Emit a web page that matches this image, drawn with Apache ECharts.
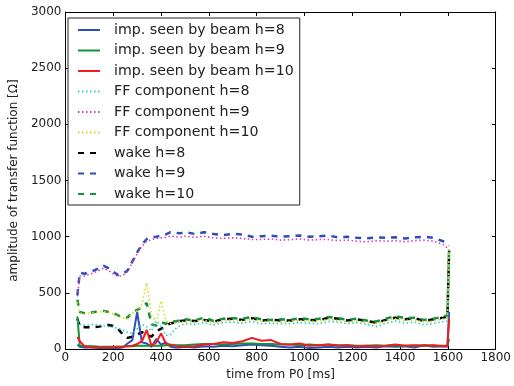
<!DOCTYPE html>
<html><head><meta charset="utf-8">
<script src="https://cdn.jsdelivr.net/npm/echarts@6/dist/echarts.min.js"></script>
<style>html,body{margin:0;padding:0;background:#fff}#c{width:514px;height:386px}</style>
</head><body><div id="c"></div>
<script>
const timeMs = [50,60,80,100,120,140,160,180,200,220,240,260,280,300,320,340,360,380,400,420,440,460,480,500,540,580,620,660,700,740,780,820,860,900,940,980,1020,1060,1100,1140,1180,1220,1260,1300,1340,1380,1420,1460,1500,1540,1580,1598,1605];

const impH8 = [40,20,15,15,15,10,10,10,10,10,15,50,80,330,60,50,20,90,40,60,20,15,15,20,15,25,20,30,25,35,40,35,30,20,15,20,10,15,20,15,20,15,20,15,25,20,25,15,35,20,25,20,330];
const impH9 = [290,30,25,25,25,20,20,20,20,20,20,25,25,30,30,30,30,30,30,35,35,35,35,35,40,45,45,40,45,50,50,45,45,40,40,35,40,35,40,35,35,30,30,35,30,35,30,30,35,30,30,30,90];
const impH10 = [110,70,25,20,15,15,15,15,15,20,20,25,30,45,70,170,30,60,140,50,40,30,20,20,25,40,45,60,55,70,100,75,80,45,40,50,30,35,40,30,35,25,30,25,30,40,30,35,30,35,25,30,270];

const ffH8 = [250,220,215,215,220,215,205,200,195,185,170,150,140,180,220,200,160,250,200,120,130,180,210,225,220,235,215,235,240,230,245,225,230,225,225,235,230,225,245,240,225,235,220,200,230,250,230,240,215,230,245,250,860];
const ffH9 = [470,650,650,665,680,700,720,700,670,645,655,690,770,850,915,960,975,985,990,995,1005,1000,995,1005,995,1005,990,985,990,985,975,975,980,970,975,980,970,975,975,965,970,960,955,965,960,965,955,965,970,960,930,900,880];
const ffH10 = [420,320,315,320,325,330,335,325,310,290,275,270,320,340,400,590,300,240,430,250,230,230,240,245,240,260,235,255,260,250,265,245,245,240,245,255,245,250,265,255,240,250,235,225,250,270,255,260,240,250,270,280,900];

const wakeH8 = [270,200,195,195,195,200,210,215,205,180,130,100,110,130,150,130,110,160,180,210,230,235,250,255,250,260,245,265,270,260,275,255,260,255,255,265,260,255,280,270,255,265,250,235,260,280,265,275,250,265,280,290,880];
const wakeH9 = [480,680,670,690,700,720,740,720,690,660,670,700,780,860,930,980,995,1000,1010,1020,1040,1035,1030,1040,1025,1040,1025,1015,1025,1020,1000,1005,1010,1000,1005,1010,1000,1005,1010,995,1000,990,985,995,990,995,985,995,1000,990,960,935,920];
const wakeH10 = [440,330,320,325,330,335,340,330,320,300,285,280,330,350,370,410,220,210,240,225,250,245,260,265,255,280,250,270,275,270,285,265,260,265,260,275,265,270,285,275,260,270,255,245,270,295,275,280,260,270,290,300,910];

const xTicks = [0,200,400,600,800,1000,1200,1400,1600,1800];
const yTicks = [0,500,1000,1500,2000,2500,3000];

const names = ['imp. seen by beam h=8','imp. seen by beam h=9','imp. seen by beam h=10','FF component h=8','FF component h=9','FF component h=10','wake h=8','wake h=9','wake h=10'];
const values = [impH8, impH9, impH10, ffH8, ffH9, ffH10, wakeH8, wakeH9, wakeH10];
const colors = ['#2f4fb8','#14913a','#f01c1c','#2ccfcf','#d040c8','#d8d820','#000000','#2f4fb8','#14913a'];
const kinds = ['solid','solid','solid','dotted','dotted','dotted','dashed','dashed','dashed'];

const FONT = 'DejaVu Sans';
function pairs(v){ return timeMs.map((t,i)=>[t,v[i]]); }

const series = names.map((n,i)=>{
  const k = kinds[i];
  return {
    name: n, type: 'line', data: pairs(values[i]),
    showSymbol: false, symbol: 'none', animation: false,
    z: k==='solid'?3:(k==='dashed'?2:4),
    lineStyle: {
      color: colors[i],
      width: k==='solid'?2:(k==='dashed'?2.5:1.6),
      type: k==='solid'?'solid':(k==='dashed'?[6,6]:[1.5,2.5])
    },
    itemStyle: {color: colors[i]}
  };
});

const axisCommon = {
  min: 0,
  axisLine: {show: true, onZero: false, lineStyle: {color: '#000', width: 1}},
  axisTick: {show: true, inside: true, length: 4, lineStyle: {color: '#000'}},
  splitLine: {show: false}
};

const chart = echarts.init(document.getElementById('c'), null, {renderer: 'canvas'});
chart.setOption({
  animation: false,
  backgroundColor: '#fff',
  grid: {left: 62, right: 13, top: 12, bottom: 34, containLabel: false},
  legend: {
    data: names, orient: 'vertical', left: 68, top: 18,
    backgroundColor: '#fff', borderColor: '#222', borderWidth: 1,
    padding: [5, 6, 4, 9], itemWidth: 22, itemHeight: 14, itemGap: 6.5,
    itemStyle: {opacity: 0},
    textStyle: {fontFamily: FONT, fontSize: 14.2, lineHeight: 14, color: '#222', padding: [0,0,0,9]},
    selectedMode: false
  },
  xAxis: [
    Object.assign({}, axisCommon, {
      type: 'value', max: 1800, interval: 200, position: 'bottom',
      name: 'time from P0 [ms]', nameLocation: 'middle', nameGap: 18,
      nameTextStyle: {fontFamily: FONT, fontSize: 12, color: '#222'},
      axisLabel: {fontFamily: FONT, fontSize: 12, color: '#222', margin: 3,
        formatter: v => xTicks.includes(v) ? String(v) : ''}
    }),
    Object.assign({}, axisCommon, {
      type: 'value', max: 1800, interval: 200, position: 'top',
      axisLabel: {show: false}
    })
  ],
  yAxis: [
    Object.assign({}, axisCommon, {
      type: 'value', max: 3000, interval: 500, position: 'left',
      name: 'amplitude of transfer function [Ω]', nameLocation: 'middle', nameGap: 44,
      nameTextStyle: {fontFamily: FONT, fontSize: 12, color: '#222'},
      axisLabel: {fontFamily: FONT, fontSize: 12, color: '#222', margin: 4,
        formatter: v => yTicks.includes(v) ? String(v) : ''}
    }),
    Object.assign({}, axisCommon, {
      type: 'value', max: 3000, interval: 500, position: 'right',
      axisLabel: {show: false}
    })
  ],
  series: series
});
</script>
</body></html>
